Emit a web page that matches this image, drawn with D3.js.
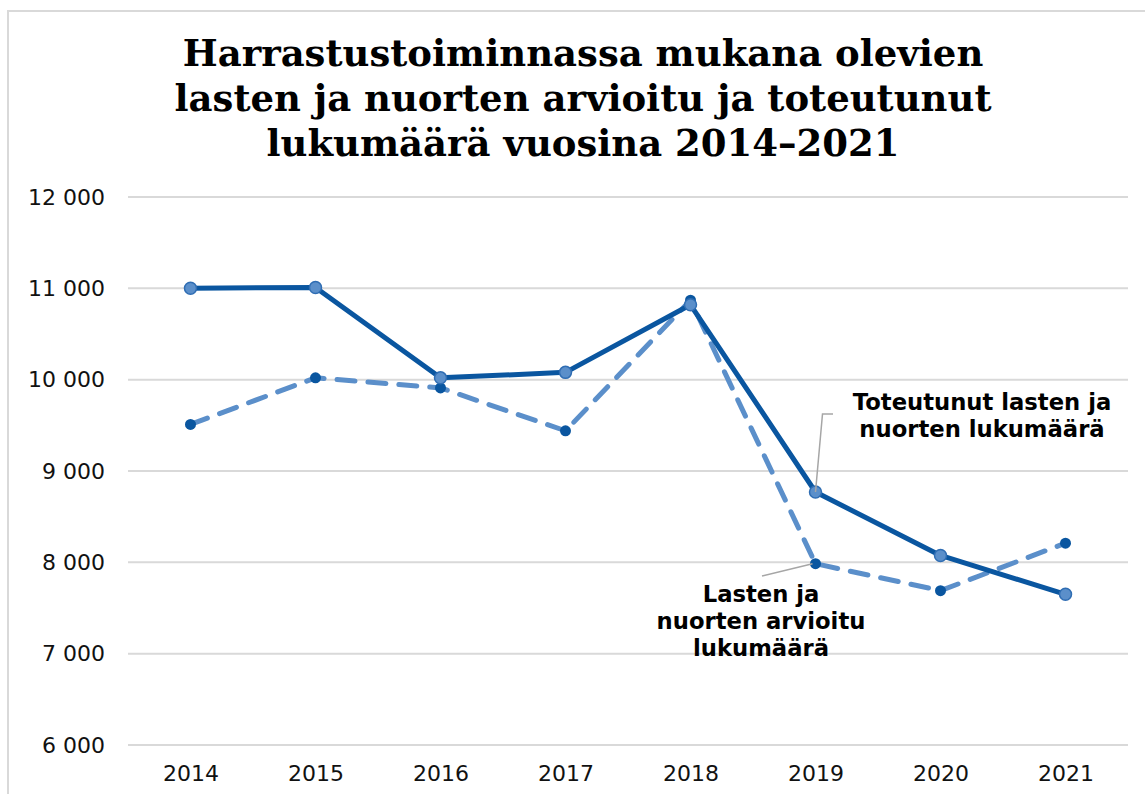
<!DOCTYPE html>
<html>
<head>
<meta charset="utf-8">
<script src="https://cdn.jsdelivr.net/npm/d3@7"></script>
<style>
  body { margin: 0; background: #fff; }
</style>
</head>
<body>
<svg id="chart"></svg>
<script>
// data
var years = ["2014", "2015", "2016", "2017", "2018", "2019", "2020", "2021"];
var toteutunut = [11000, 11010, 10020, 10080, 10820, 8770, 8075, 7650];
var arvioitu = [9510, 10020, 9910, 9440, 10870, 7985, 7690, 8210];
var yTicks = [6000, 7000, 8000, 9000, 10000, 11000, 12000];
var titleLines = ["Harrastustoiminnassa mukana olevien",
                  "lasten ja nuorten arvioitu ja toteutunut",
                  "lukumäärä vuosina 2014–2021"];

var width = 1145, height = 794;
var dark = "#0a56a0", light = "#5b8fca";

var svg = d3.select("#chart")
    .attr("width", width)
    .attr("height", height);

svg.append("rect")
    .attr("width", width).attr("height", height)
    .attr("fill", "#fff");

// chart frame
svg.append("rect")
    .attr("x", 8).attr("y", 11)
    .attr("width", width + 20).attr("height", height + 20)
    .attr("fill", "none")
    .attr("stroke", "#d9d9d9")
    .attr("stroke-width", 2);

svg.append("text")
    .attr("text-anchor", "middle")
    .attr("font-family", "'DejaVu Serif', serif")
    .attr("font-weight", "bold")
    .attr("font-size", "37px")
    .attr("fill", "#000")
    .selectAll("tspan")
    .data(titleLines)
    .enter()
    .append("tspan")
    .attr("x", 583)
    .attr("y", (d, i) => 66 + i * 45)
    .text(d => d);

var x = d3.scalePoint()
    .domain(years)
    .range([128, 1128])
    .padding(0.5);

var y = d3.scaleLinear()
    .domain([6000, 12000])
    .range([745, 197]);

// grid
svg.append("g")
    .selectAll("line")
    .data(yTicks)
    .enter()
    .append("line")
    .attr("x1", 128).attr("x2", 1128)
    .attr("y1", d => y(d)).attr("y2", d => y(d))
    .attr("stroke", "#d9d9d9")
    .attr("stroke-width", 2);

var yAxis = d3.axisLeft(y)
    .tickValues(yTicks)
    .tickSize(0)
    .tickPadding(23)
    .tickFormat(d => d3.format(",")(d).replace(",", " "));

svg.append("g")
    .attr("transform", "translate(128,0)")
    .call(yAxis)
    .call(g => g.select(".domain").remove())
    .selectAll("text")
    .attr("font-family", "'DejaVu Sans', Verdana, sans-serif")
    .attr("font-size", "22px")
    .attr("fill", "#111");

var xAxis = d3.axisBottom(x)
    .tickSize(0)
    .tickPadding(20);

svg.append("g")
    .attr("transform", "translate(0,745)")
    .call(xAxis)
    .call(g => g.select(".domain").remove())
    .selectAll("text")
    .attr("font-family", "'DejaVu Sans', Verdana, sans-serif")
    .attr("font-size", "22px")
    .attr("fill", "#111");

var line = d3.line()
    .x((d, i) => x(years[i]))
    .y(d => y(d));

// arvioitu (dashed) below
svg.append("path")
    .datum(arvioitu)
    .attr("d", line)
    .attr("fill", "none")
    .attr("stroke", light)
    .attr("stroke-width", 5)
    .attr("stroke-dasharray", "18,13")
    .attr("stroke-linecap", "round");

svg.selectAll(".dotA")
    .data(arvioitu)
    .enter()
    .append("circle")
    .attr("class", "dotA")
    .attr("cx", (d, i) => x(years[i]))
    .attr("cy", d => y(d))
    .attr("r", 5.5)
    .attr("fill", dark);

svg.append("path")
    .datum(toteutunut)
    .attr("d", line)
    .attr("fill", "none")
    .attr("stroke", dark)
    .attr("stroke-width", 5)
    .attr("stroke-linejoin", "round");

svg.selectAll(".dotT")
    .data(toteutunut)
    .enter()
    .append("circle")
    .attr("class", "dotT")
    .attr("cx", (d, i) => x(years[i]))
    .attr("cy", d => y(d))
    .attr("r", 6)
    .attr("fill", light)
    .attr("stroke", "#2f6db3")
    .attr("stroke-width", 1.5);

// leader lines
var px = x("2019");
svg.append("polyline")
    .attr("points", [[px, y(toteutunut[5])], [px + 7, 414], [833, 414]].join(" "))
    .attr("fill", "none")
    .attr("stroke", "#a6a6a6")
    .attr("stroke-width", 1.5);

svg.append("line")
    .attr("x1", 762).attr("y1", 576)
    .attr("x2", px - 3).attr("y2", y(arvioitu[5]))
    .attr("stroke", "#a6a6a6")
    .attr("stroke-width", 1.5);

function label(lines, cx, y0) {
  svg.append("text")
      .attr("text-anchor", "middle")
      .attr("font-family", "'DejaVu Sans', Verdana, sans-serif")
      .attr("font-weight", "bold")
      .attr("font-size", "22.7px")
      .attr("fill", "#000")
      .selectAll("tspan")
      .data(lines)
      .enter()
      .append("tspan")
      .attr("x", cx)
      .attr("y", (d, i) => y0 + i * 27)
      .text(d => d);
}
label(["Toteutunut lasten ja", "nuorten lukumäärä"], 982, 410);
label(["Lasten ja", "nuorten arvioitu", "lukumäärä"], 761, 602);
</script>
</body>
</html>
